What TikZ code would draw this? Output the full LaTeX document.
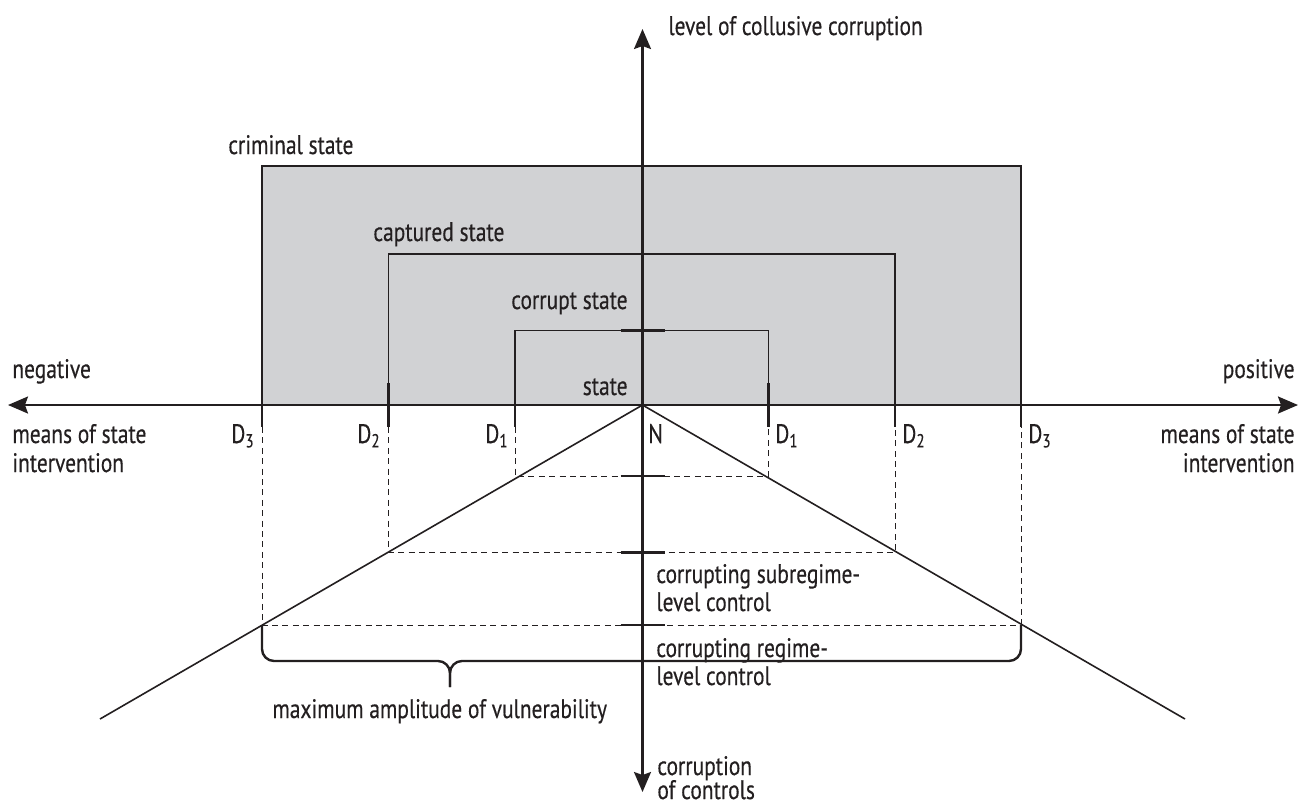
\documentclass[tikz,border=0pt]{standalone}
\usepackage{fontspec}
\setmainfont[FakeStretch=0.8,FakeBold=0.35]{PT Sans}
\usetikzlibrary{arrows.meta}
\definecolor{ink}{HTML}{231F20}
\definecolor{boxgray}{HTML}{D1D2D4}
\begin{document}
\begin{tikzpicture}[x=0.5pt,y=-0.5pt,
  lbl/.style={inner sep=0pt, font=\fontsize{13.4}{15}\selectfont, text=ink},
  axis/.style={draw=ink, line width=1.1pt, {Stealth[length=10pt,width=8.5pt,inset=1.5pt]}-{Stealth[length=10pt,width=8.5pt,inset=1.5pt]}},
  frame/.style={draw=ink, line width=0.7pt},
  tickmark/.style={draw=ink, line width=1.1pt},
  guide/.style={draw=ink, line width=0.5pt, dash pattern=on 3pt off 2.2pt},
  ray/.style={draw=ink, line width=0.8pt},
  bracestyle/.style={draw=ink, line width=1.2pt, rounded corners=6pt}]
\useasboundingbox (0,0) rectangle (1301,805);
% key coordinates
\coordinate (N) at (642.5,405);
\coordinate (W) at (8,405);
\coordinate (E) at (1298,405);
\coordinate (T) at (642.5,29);
\coordinate (B) at (642.5,792);
% upper levels
\coordinate (c3l) at (262,166);   \coordinate (c3r) at (1021,166);
\coordinate (c2l) at (388.5,254); \coordinate (c2r) at (895,254);
\coordinate (c1l) at (515,330.5); \coordinate (c1r) at (768.5,330.5);
\coordinate (d3l) at (262,405);   \coordinate (d3r) at (1021,405);
\coordinate (d2l) at (388.5,405); \coordinate (d2r) at (895,405);
\coordinate (d1l) at (515,405);   \coordinate (d1r) at (768.5,405);
% lower levels
\coordinate (v1l) at (515,476);   \coordinate (v1r) at (768.5,476);
\coordinate (v2l) at (388.5,552.5); \coordinate (v2r) at (895,552.5);
\coordinate (v3l) at (262,625);   \coordinate (v3r) at (1021,625);
% axis tick centres
\coordinate (a3) at (642.5,166); \coordinate (a2) at (642.5,254); \coordinate (a1) at (642.5,330.5);
\coordinate (b1) at (642.5,476); \coordinate (b2) at (642.5,552.5); \coordinate (b3) at (642.5,625);
% ray ends
\coordinate (RL) at (100,719);
\coordinate (RR) at (1185,719);
% brace
\coordinate (brtip) at (450,687);

% shaded criminal state area
\fill[boxgray] (c3l) rectangle (d3r);
\draw[frame] (d3l) -- (c3l) -- (c3r) -- (d3r);
\draw[frame] (d2l) -- (c2l) -- (c2r) -- (d2r);
\draw[frame] (d1l) -- (c1l) -- (c1r) -- (d1r);

% dashed guides
\draw[guide] ([yshift=-11pt]d1l) -- (v1l) -- (v1r) -- ([yshift=-11pt]d1r);
\draw[guide] ([yshift=-11pt]d2l) -- (v2l) -- (v2r) -- ([yshift=-11pt]d2r);
\draw[guide] ([yshift=-11pt]d3l) -- (v3l) -- (v3r) -- ([yshift=-11pt]d3r);

% rays
\draw[ray] (RL) -- (N) -- (RR);

% brace
\draw[bracestyle] (v3l) -- (262,661) -- (brtip |- 0,661) -- (brtip);
\draw[bracestyle] (brtip) -- (brtip |- 0,661) -- (1021,661) -- (v3r);

% axes
\draw[axis] (W) -- (E);
\draw[axis] (B) -- (T);

% ticks on vertical axis
\foreach \p in {a1,a2,a3,b1,b2,b3}
  \draw[tickmark] ([xshift=-11pt]\p) -- ([xshift=11pt]\p);
% ticks on horizontal axis
\foreach \p in {d1l,d2l,d3l,d1r,d2r,d3r}
  \draw[tickmark] ([yshift=11pt]\p) -- ([yshift=-11pt]\p);

% labels
\node[lbl, anchor=base west] (tlev) at (668,35) {level of collusive corruption};
\node[lbl, anchor=base west] (tcrim) at (228,154) {criminal state};
\node[lbl, anchor=base west] (tcapt) at (373,241) {captured state};
\node[lbl, anchor=base east] (tcorr) at (628,309) {corrupt state};
\node[lbl, anchor=base east] (tstate) at (628,395) {state};
\node[lbl, anchor=base west] (tneg) at (12,378) {negative};
\node[lbl, anchor=base east] (tpos) at (1295,378) {positive};
\node[lbl, anchor=base west] (tmeanL1) at (12,443) {means of state};
\node[lbl, anchor=base west] (tmeanL2) at (12,472) {intervention};
\node[lbl, anchor=base east] (tmeanR1) at (1295,443) {means of state};
\node[lbl, anchor=base east] (tmeanR2) at (1295,472) {intervention};
\node[lbl, anchor=base east] (tD3l) at (255,443) {D\textsubscript{3}};
\node[lbl, anchor=base east] (tD2l) at (381,443) {D\textsubscript{2}};
\node[lbl, anchor=base east] (tD1l) at (509,443) {D\textsubscript{1}};
\node[lbl, anchor=base west] (tN) at (648,443) {N};
\node[lbl, anchor=base west] (tD1r) at (775,443) {D\textsubscript{1}};
\node[lbl, anchor=base west] (tD2r) at (902,443) {D\textsubscript{2}};
\node[lbl, anchor=base west] (tD3r) at (1028,443) {D\textsubscript{3}};
\node[lbl, anchor=base west] (tsub1) at (656,583) {corrupting subregime-};
\node[lbl, anchor=base west] (tsub2) at (656,611) {level control};
\node[lbl, anchor=base west] (treg1) at (656,657) {corrupting regime-};
\node[lbl, anchor=base west] (treg2) at (656,685) {level control};
\node[lbl, anchor=base west] (tmax) at (272,718) {maximum amplitude of vulnerability};
\node[lbl, anchor=base west] (tcc1) at (657,775) {corruption};
\node[lbl, anchor=base west] (tcc2) at (657,799) {of controls};
\end{tikzpicture}
\end{document}
